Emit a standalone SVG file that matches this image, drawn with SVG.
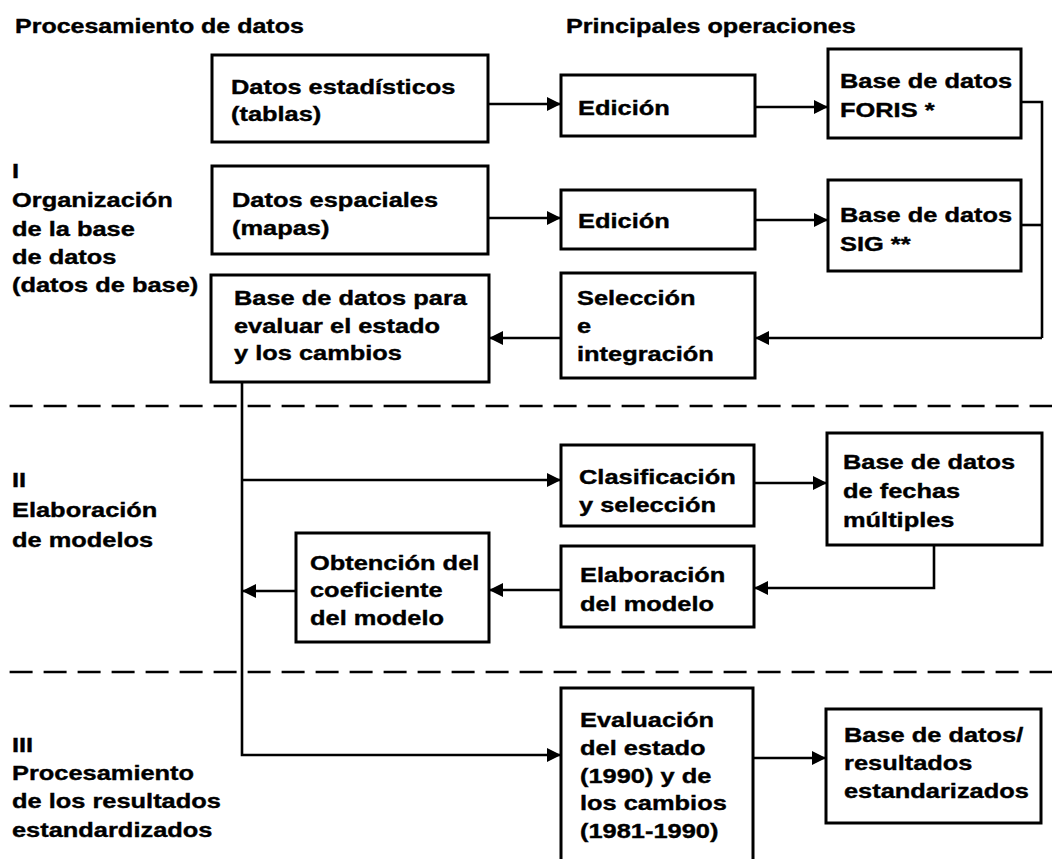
<svg xmlns="http://www.w3.org/2000/svg" width="1057" height="859" viewBox="0 0 1057 859">
<style>
.t{font-family:"Liberation Sans",Arial,Helvetica,sans-serif;font-weight:bold;font-size:21px;fill:#000;stroke:#000;stroke-width:0.4}
.box{fill:#fff;stroke:#000;stroke-width:3}
.c{fill:none;stroke:#000;stroke-width:2.6}
.dash{fill:none;stroke:#000;stroke-width:2.6;stroke-dasharray:23 11}
</style>
<defs>
<marker id="ah" markerUnits="userSpaceOnUse" markerWidth="15" markerHeight="14" refX="14" refY="7" orient="auto">
<path d="M0,0 L14,7 L0,14 z" fill="#000"/>
</marker>
</defs>
<rect width="1057" height="859" fill="#fff"/>

<g id="headers">
<text class="t" transform="translate(15,33) scale(1.19,1)">Procesamiento de datos</text>
<text class="t" transform="translate(566,33) scale(1.2,1)">Principales operaciones</text>
</g>

<g id="section-labels">
<text class="t" transform="translate(12,0) scale(1.21,1)"><tspan x="0" y="178">I</tspan><tspan x="0" y="207">Organización</tspan><tspan x="0" y="236">de la base</tspan><tspan x="0" y="264">de datos</tspan><tspan x="0" y="292">(datos de base)</tspan></text>
<text class="t" transform="translate(12,0) scale(1.21,1)"><tspan x="0" y="487">II</tspan><tspan x="0" y="517">Elaboración</tspan><tspan x="0" y="547">de modelos</tspan></text>
<text class="t" transform="translate(12,0) scale(1.21,1)"><tspan x="0" y="752">III</tspan><tspan x="0" y="780">Procesamiento</tspan><tspan x="0" y="808">de los resultados</tspan><tspan x="0" y="837">estandardizados</tspan></text>
</g>

<g id="dividers">
<line class="dash" x1="9.6" y1="406" x2="1052" y2="406"/>
<line class="dash" x1="9.6" y1="672" x2="1052" y2="672"/>
</g>

<g id="connectors">
<line class="c" x1="488" y1="104" x2="561" y2="104" marker-end="url(#ah)"/>
<line class="c" x1="755" y1="107" x2="828" y2="107" marker-end="url(#ah)"/>
<line class="c" x1="488" y1="218" x2="561" y2="218" marker-end="url(#ah)"/>
<line class="c" x1="755" y1="220" x2="828" y2="220" marker-end="url(#ah)"/>
<polyline class="c" points="1021,102 1042,102 1042,338"/>
<line class="c" x1="1021" y1="225" x2="1042" y2="225"/>
<line class="c" x1="1042" y1="338" x2="755" y2="338" marker-end="url(#ah)"/>
<line class="c" x1="561" y1="338" x2="489" y2="338" marker-end="url(#ah)"/>
<polyline class="c" points="242,382 242,755 561,755" marker-end="url(#ah)"/>
<line class="c" x1="242" y1="480" x2="561" y2="480" marker-end="url(#ah)"/>
<line class="c" x1="754" y1="483" x2="827" y2="483" marker-end="url(#ah)"/>
<polyline class="c" points="934,545 934,588 754,588" marker-end="url(#ah)"/>
<line class="c" x1="561" y1="590" x2="489" y2="590" marker-end="url(#ah)"/>
<line class="c" x1="296" y1="591" x2="242" y2="591" marker-end="url(#ah)"/>
<line class="c" x1="753" y1="758" x2="826" y2="758" marker-end="url(#ah)"/>
</g>

<g id="n-datos-estadisticos">
<rect class="box" x="212" y="55" width="276" height="87"/>
<text class="t" transform="translate(231,0) scale(1.21,1)"><tspan x="0" y="94">Datos estadísticos</tspan><tspan x="0" y="121">(tablas)</tspan></text>
</g>
<g id="n-edicion-1">
<rect class="box" x="561" y="75" width="194" height="61"/>
<text class="t" transform="translate(578,115) scale(1.21,1)">Edición</text>
</g>
<g id="n-foris">
<rect class="box" x="828" y="49" width="193" height="89"/>
<text class="t" transform="translate(840,0) scale(1.21,1)"><tspan x="0" y="88">Base de datos</tspan><tspan x="0" y="117">FORIS *</tspan></text>
</g>
<g id="n-datos-espaciales">
<rect class="box" x="212" y="166" width="276" height="88"/>
<text class="t" transform="translate(232,0) scale(1.21,1)"><tspan x="0" y="207">Datos espaciales</tspan><tspan x="0" y="235">(mapas)</tspan></text>
</g>
<g id="n-edicion-2">
<rect class="box" x="561" y="190" width="194" height="59"/>
<text class="t" transform="translate(578,228) scale(1.21,1)">Edición</text>
</g>
<g id="n-sig">
<rect class="box" x="828" y="180" width="193" height="91"/>
<text class="t" transform="translate(840,0) scale(1.21,1)"><tspan x="0" y="222">Base de datos</tspan><tspan x="0" y="251">SIG **</tspan></text>
</g>
<g id="n-base-evaluar">
<rect class="box" x="211" y="275" width="278" height="107"/>
<text class="t" transform="translate(234,0) scale(1.21,1)"><tspan x="0" y="305">Base de datos para</tspan><tspan x="0" y="333">evaluar el estado</tspan><tspan x="0" y="360">y los cambios</tspan></text>
</g>
<g id="n-seleccion">
<rect class="box" x="561" y="273" width="194" height="105"/>
<text class="t" transform="translate(577,0) scale(1.21,1)"><tspan x="0" y="305">Selección</tspan><tspan x="0" y="333">e</tspan><tspan x="0" y="361">integración</tspan></text>
</g>
<g id="n-clasificacion">
<rect class="box" x="561" y="445" width="193" height="81"/>
<text class="t" transform="translate(579,0) scale(1.21,1)"><tspan x="0" y="484">Clasificación</tspan><tspan x="0" y="512">y selección</tspan></text>
</g>
<g id="n-fechas">
<rect class="box" x="827" y="433" width="215" height="112"/>
<text class="t" transform="translate(843,0) scale(1.21,1)"><tspan x="0" y="469">Base de datos</tspan><tspan x="0" y="498">de fechas</tspan><tspan x="0" y="527">múltiples</tspan></text>
</g>
<g id="n-elaboracion">
<rect class="box" x="561" y="546" width="193" height="81"/>
<text class="t" transform="translate(580,0) scale(1.21,1)"><tspan x="0" y="582">Elaboración</tspan><tspan x="0" y="611">del modelo</tspan></text>
</g>
<g id="n-obtencion">
<rect class="box" x="296" y="533" width="193" height="109"/>
<text class="t" transform="translate(310,0) scale(1.21,1)"><tspan x="0" y="570">Obtención del</tspan><tspan x="0" y="597">coeficiente</tspan><tspan x="0" y="625">del modelo</tspan></text>
</g>
<g id="n-evaluacion">
<rect class="box" x="561" y="688" width="192" height="200"/>
<text class="t" transform="translate(580,0) scale(1.21,1)"><tspan x="0" y="727">Evaluación</tspan><tspan x="0" y="755">del estado</tspan><tspan x="0" y="783">(1990) y de</tspan><tspan x="0" y="810">los cambios</tspan><tspan x="0" y="838">(1981-1990)</tspan></text>
</g>
<g id="n-resultados">
<rect class="box" x="826" y="709" width="215" height="114"/>
<text class="t" transform="translate(844,0) scale(1.21,1)"><tspan x="0" y="742">Base de datos/</tspan><tspan x="0" y="770">resultados</tspan><tspan x="0" y="798">estandarizados</tspan></text>
</g>
</svg>
